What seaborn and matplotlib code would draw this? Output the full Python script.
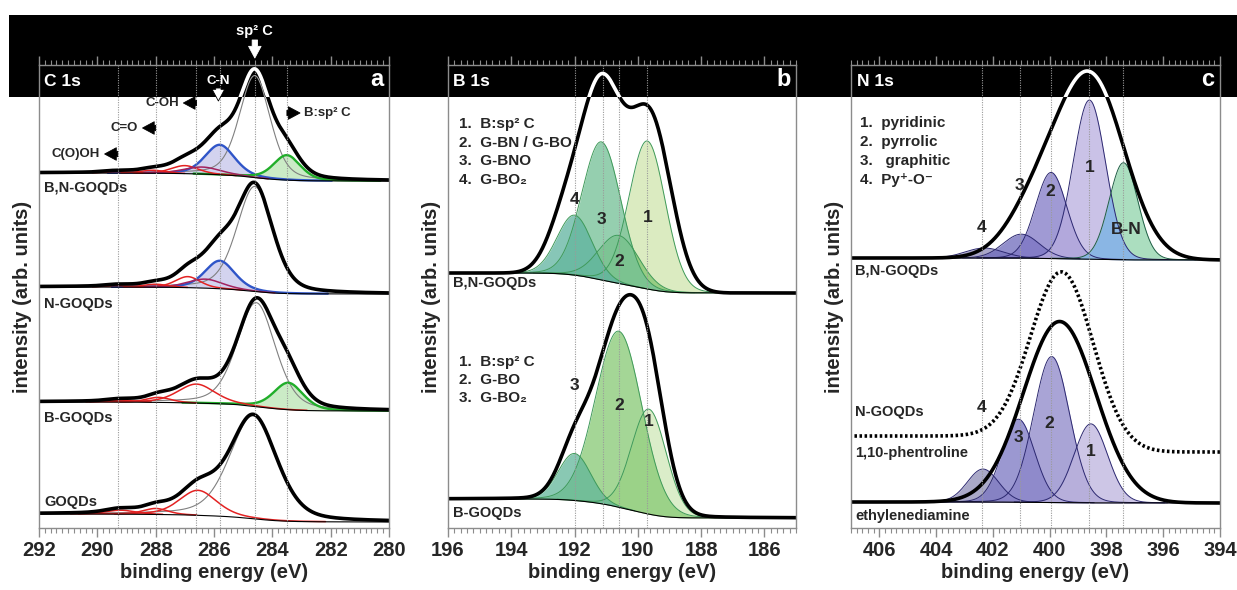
"""XPS C 1s / B 1s / N 1s deconvolution panels for doped GOQDs."""

import numpy as np
import matplotlib
matplotlib.use("Agg")
import matplotlib.pyplot as plt
from matplotlib.patches import Rectangle
from matplotlib.ticker import MultipleLocator
import seaborn as sns


# ---------------- data (arb. units) ----------------
# C 1s components: sp2 C, C-N, B:sp2 C, C-OH, C-O, C=O, C(O)OH
C1S_KINDS = ["sp2", "C-N", "B:sp2C", "C-OH", "C-O", "C=O", "COOH"]

BN_C1S_POS = [284.6, 285.8, 283.5, 287.0, 286.4, 288.1, 289.3]
BN_C1S_HEIGHT = [102, 30, 25, 8, 7, 3, 1.5]
BN_C1S_FWHM = [1.25, 1.2, 1.1, 1.1, 1.5, 1.0, 1.0]
BN_C1S_BG = (355, 347)

N_C1S_POS = [284.6, 285.8, 283.5, 286.9, 286.3, 288.0, 289.3]
N_C1S_HEIGHT = [105, 28, 0, 11, 9, 3, 1.5]
N_C1S_FWHM = [1.45, 1.2, 1.1, 1.0, 1.4, 1.0, 1.0]
N_C1S_BG = (241, 234)

B_C1S_POS = [284.55, 285.8, 283.45, 286.6, 286.3, 287.9, 289.2]
B_C1S_HEIGHT = [104, 0, 27, 19, 0, 5, 2]
B_C1S_FWHM = [1.55, 1.2, 1.2, 1.5, 1.4, 1.0, 1.1]
B_C1S_BG = (126, 117)

GO_C1S_POS = [284.65, 285.8, 283.5, 286.55, 286.3, 288.0, 289.2]
GO_C1S_HEIGHT = [103, 0, 0, 25, 0, 6, 4]
GO_C1S_FWHM = [1.9, 1.2, 1.1, 1.5, 1.4, 1.0, 1.2]
GO_C1S_BG = (14, 6)

C1S_SAMPLES = ["B,N-GOQDs", "N-GOQDs", "B-GOQDs", "GOQDs"]
C1S_LABEL_Y = [340, 224, 110, 26]
C1S_MARKERS = [289.3, 288.0, 286.6, 285.8, 284.6, 283.5]

# B 1s components: 1 B:sp2 C, 2 G-BN/G-BO, 3 G-BNO, 4 G-BO2
BN_B1S_POS = [189.7, 190.6, 191.15, 192.0]
BN_B1S_HEIGHT = [148, 48, 138, 60]
BN_B1S_FWHM = [1.35, 1.5, 1.45, 1.3]
BN_B1S_BG = (255, 235)
BN_B1S_ENV_POS = [191.15, 189.6, 192.3]
BN_B1S_ENV_HEIGHT = [190, 168, 50]
BN_B1S_ENV_FWHM = [1.55, 1.55, 1.3]
BN_B1S_LEGEND = ["1.  B:sp\u00b2 C", "2.  G-BN / G-BO", "3.  G-BNO", "4.  G-BO\u2082"]

B_B1S_POS = [189.65, 190.6, 192.0]
B_B1S_HEIGHT = [105, 176, 47]
B_B1S_FWHM = [1.3, 1.72, 1.2]
B_B1S_BG = (29, 10)
B_B1S_LEGEND = ["1.  B:sp\u00b2 C", "2.  G-BO", "3.  G-BO\u2082"]

B1S_MARKERS = [192.0, 191.1, 190.6, 189.7]

# N 1s components: 4 Py+-O-, 3 graphitic, 2 pyrrolic, 1 pyridinic, B-N
BN_N1S_POS = [402.3, 401.0, 399.95, 398.6, 397.4]
BN_N1S_HEIGHT = [10, 24, 86, 159, 97]
BN_N1S_FWHM = [1.6, 1.5, 1.3, 1.35, 1.2]
BN_N1S_BG = (270, 268)
BN_N1S_ENV_POS = [398.55, 400.5]
BN_N1S_ENV_HEIGHT = [180, 45]
BN_N1S_ENV_FWHM = [2.8, 2.4]
N1S_LEGEND = ["1.  pyridinic", "2.  pyrrolic", "3.   graphitic", "4.  Py\u207a-O\u207b"]

ED_N1S_POS = [402.35, 401.1, 399.93, 398.55]
ED_N1S_HEIGHT = [33, 83, 146, 79]
ED_N1S_FWHM = [1.3, 1.35, 1.5, 1.4]
ED_N1S_BG = (26, 25)

PHEN_POS, PHEN_HEIGHT, PHEN_FWHM = 399.65, 181, 3.0
NGO_POS, NGO_HEIGHT, NGO_FWHM = 399.55, 172, 2.6
NGO_BG = (92, 76)

N1S_MARKERS = [402.4, 401.05, 399.95, 398.6, 397.4]

# ---------------- styling ----------------
W, H = 1237, 590
YMAX = 463
BAND_Y = 431          # bottom of black header band (data units)
GRID_C = "#9a9a9a"
SPINE_C = "#8c8c8c"

C1S_EDGE = ["#808080", "#2f55c8", "#21ae2a", "#e32222", "#a3225e", "#e32222", "#e32222"]
C1S_FILL = [None, "#c8c8ec", "#bfe6b8", None, None, None, None]
C1S_LW = [0.8, 1.7, 1.7, 1.1, 1.1, 1.1, 1.1]

BN_B1S_FILL = ["#cfe5ad", "#80c46f", "#72c095", "#5fb49f"]
B_B1S_FILL = ["#d0e7b8", "#86c973", "#62b69a"]
B1S_EDGE = "#3f9a5a"

BN_N1S_FILL = ["#8c89b8", "#6e6abb", "#8078c6", "#b9aee0", "#8fd4aa"]
ED_N1S_FILL = ["#8e8cb6", "#7a76c2", "#8c86c9", "#bdb4de"]
N1S_EDGE = "#2c2870"
BN_OVERLAP_C = "#8ab6e4"


def pv(x, pos, height, fwhm, eta):
    """Pseudo-Voigt line shape."""
    u = (x - pos) / fwhm
    return height * (eta / (1 + 4 * u ** 2) + (1 - eta) * np.exp(-4 * np.log(2) * u ** 2))


def peaks_sum(x, pos, heights, fwhms, eta=0.0):
    return np.sum([pv(x, p, h, w, eta) for p, h, w in zip(pos, heights, fwhms)], axis=0)


def shirley(x, total, bg):
    """Shirley-like step background; x ascending, bg = (high BE, low BE)."""
    cum = np.cumsum(total)
    cum = cum / cum[-1]
    return bg[1] + (bg[0] - bg[1]) * cum


def line(ax, x, y, **kw):
    sns.lineplot(x=x, y=y, ax=ax, estimator=None, sort=False, **kw)
    return ax.lines[-1]


def draw_spectrum(ax, x, pos, heights, fwhms, bg_lr, eta, fills, edges, lws,
                  alpha=0.75, envelope=True):
    comps = [pv(x, p, h, w, eta) for p, h, w in zip(pos, heights, fwhms)]
    total = np.sum(comps, axis=0)
    bg = shirley(x, total, bg_lr)
    for c, fc, ec, lw in zip(comps, fills, edges, lws):
        if c.max() <= 0:
            continue
        if fc:
            ax.fill_between(x, bg, bg + c, color=fc, alpha=alpha, lw=0, zorder=1)
        line(ax, x, np.where(c > 0.25, bg + c, np.nan), color=ec, lw=lw, zorder=2)
    line(ax, x, bg, color="black", lw=0.8, zorder=2)
    if envelope:
        line(ax, x, bg + total, color="black", lw=2.6, zorder=2.6)
    return bg, comps, bg + total


def draw_envelope(ax, x, pos, heights, fwhms, bg_lr, band=None, **kw):
    env = peaks_sum(x, pos, heights, fwhms)
    env = shirley(x, env, bg_lr) + env
    line(ax, x, env, color="black", lw=2.6, zorder=2.6, **kw)
    if band is not None:
        white_in_band(ax, band, x, env)
    return env


def setup_axes(ax, xlim, markers, head, letter):
    ax.set_xlim(*xlim)
    ax.set_ylim(0, YMAX)
    ax.set_yticks([])
    ax.xaxis.set_major_locator(MultipleLocator(2))
    ax.xaxis.set_minor_locator(MultipleLocator(0.2))
    ax.ticklabel_format(axis="x", useOffset=False)
    ax.tick_params(axis="x", which="both", direction="out", top=True, bottom=True,
                   color=SPINE_C, labelsize=14.5, pad=3)
    ax.tick_params(axis="x", which="major", length=6.5, width=1)
    ax.tick_params(axis="x", which="minor", length=3.5, width=0.8)
    for lab in ax.get_xticklabels():
        lab.set_fontweight("bold")
    for sp in ax.spines.values():
        sp.set_visible(True)
        sp.set_color(SPINE_C)
        sp.set_linewidth(1.0)
        sp.set_zorder(6)
    ax.set_xlabel("binding energy (eV)", fontsize=14.5, fontweight="bold", labelpad=2)
    ax.set_ylabel("intensity (arb. units)", fontsize=14.5, fontweight="bold", labelpad=5)
    for m in markers:
        ax.axvline(m, color=GRID_C, ls=(0, (1, 1.2)), lw=0.8, zorder=4)
    band = ax.axhspan(BAND_Y, YMAX + 10, color="black", lw=0, zorder=3)
    span = xlim[0] - xlim[1]
    ax.text(xlim[0] - 0.015 * span, 446, head, color="white", fontsize=12.5,
            fontweight="bold", ha="left", va="center", zorder=7)
    ax.text(xlim[1] + 0.015 * span, 448, letter, color="white", fontsize=17,
            fontweight="bold", ha="right", va="center", zorder=7)
    return band


def white_in_band(ax, band, x, y, color="white", lw=2.6):
    ln = line(ax, x, y, color=color, lw=lw, zorder=5)
    ln.set_clip_path(band)


def block_arrow(ax, tail, head, fc="black", ec="black"):
    ax.annotate("", xy=head, xytext=tail, annotation_clip=False, zorder=8,
                arrowprops=dict(arrowstyle="simple,head_width=0.75,head_length=0.7,tail_width=0.32",
                                fc=fc, ec=ec, lw=0.6, shrinkA=0, shrinkB=0))


def label(ax, x, y, s, size=10.5, **kw):
    ax.text(x, y, s, fontsize=size, fontweight="bold", va="center", zorder=7, **kw)


sns.set_theme(style="white")
plt.rcParams["font.family"] = ["Liberation Sans", "DejaVu Sans"]
plt.rcParams["font.weight"] = "bold"

fig = plt.figure(figsize=(W / 100, H / 100), dpi=100)
fig.add_artist(Rectangle((9 / W, 1 - 97 / H), 1 - 9 / W, 82 / H, transform=fig.transFigure,
                         color="black", lw=0, zorder=-1))

bottom = 62 / H
height = YMAX / H
ax_a = fig.add_axes([39 / W, bottom, 350 / W, height])
ax_b = fig.add_axes([448 / W, bottom, 348 / W, height])
ax_c = fig.add_axes([851 / W, bottom, 369 / W, height])

# ---------------- a: C 1s ----------------
xa = np.linspace(280, 292, 1500)
band_a = setup_axes(ax_a, (292, 280), C1S_MARKERS, "C 1s", "a")
c1s = [
    (BN_C1S_POS, BN_C1S_HEIGHT, BN_C1S_FWHM, BN_C1S_BG),
    (N_C1S_POS, N_C1S_HEIGHT, N_C1S_FWHM, N_C1S_BG),
    (B_C1S_POS, B_C1S_HEIGHT, B_C1S_FWHM, B_C1S_BG),
    (GO_C1S_POS, GO_C1S_HEIGHT, GO_C1S_FWHM, GO_C1S_BG),
]
for i, (pos, hts, fw, bgv) in enumerate(c1s):
    bg, comps, env = draw_spectrum(ax_a, xa, pos, hts, fw, bgv, 0.35,
                                   C1S_FILL, C1S_EDGE, C1S_LW, alpha=0.8)
    label(ax_a, 291.83, C1S_LABEL_Y[i], C1S_SAMPLES[i], ha="left")
    if i == 0:
        white_in_band(ax_a, band_a, xa, bg + comps[0], color="#9a9a9a", lw=0.8)
        white_in_band(ax_a, band_a, xa, env)

label(ax_a, 284.6, 497, "sp\u00b2 C", size=10.5, ha="center", color="white")
block_arrow(ax_a, (284.6, 488), (284.6, 470), fc="white", ec="white")
label(ax_a, 285.85, 447, "C-N", size=9.5, ha="center", color="white")
block_arrow(ax_a, (285.85, 440), (285.85, 427), fc="white", ec="black")
label(ax_a, 287.2, 425, "C-OH", size=9.5, ha="right")
block_arrow(ax_a, (286.6, 425), (287.05, 425))
label(ax_a, 288.6, 400, "C=O", size=9.5, ha="right")
block_arrow(ax_a, (288.0, 400), (288.45, 400))
label(ax_a, 289.9, 374, "C(O)OH", size=9.5, ha="right")
block_arrow(ax_a, (289.3, 374), (289.75, 374))
label(ax_a, 282.9, 415, "B:sp\u00b2 C", size=9.5, ha="left")
block_arrow(ax_a, (283.5, 415), (283.05, 415))

# ---------------- b: B 1s ----------------
xb = np.linspace(185, 196, 1500)
band_b = setup_axes(ax_b, (196, 185), B1S_MARKERS, "B 1s", "b")
draw_spectrum(ax_b, xb, BN_B1S_POS, BN_B1S_HEIGHT, BN_B1S_FWHM, BN_B1S_BG, 0.05,
              BN_B1S_FILL, [B1S_EDGE] * 4, [0.7] * 4, envelope=False)
draw_envelope(ax_b, xb, BN_B1S_ENV_POS, BN_B1S_ENV_HEIGHT, BN_B1S_ENV_FWHM, BN_B1S_BG, band=band_b)
draw_spectrum(ax_b, xb, B_B1S_POS, B_B1S_HEIGHT, B_B1S_FWHM, B_B1S_BG, 0.05,
              B_B1S_FILL, [B1S_EDGE] * 3, [0.7] * 3)
label(ax_b, 195.84, 245, "B,N-GOQDs", ha="left")
label(ax_b, 195.84, 15, "B-GOQDs", ha="left")
for k, s in enumerate(BN_B1S_LEGEND):
    label(ax_b, 195.65, 404 - 18.7 * k, s, size=11, ha="left")
for k, s in enumerate(B_B1S_LEGEND):
    label(ax_b, 195.65, 166 - 18 * k, s, size=11, ha="left")
for s, x, y in zip("4321", [192.0, 191.15, 190.6, 189.7], [328, 308, 266, 310]):
    label(ax_b, x, y, s, size=12.5, ha="center")
for s, x, y in zip("321", [192.0, 190.6, 189.65], [143, 123, 106]):
    label(ax_b, x, y, s, size=12.5, ha="center")

# ---------------- c: N 1s ----------------
xc = np.linspace(394, 407, 1500)
band_c = setup_axes(ax_c, (407, 394), N1S_MARKERS, "N 1s", "c")
bg, comps, _ = draw_spectrum(ax_c, xc, BN_N1S_POS, BN_N1S_HEIGHT, BN_N1S_FWHM, BN_N1S_BG, 0.05,
                             BN_N1S_FILL, [N1S_EDGE] * 4 + ["#1f5e45"], [0.7] * 5,
                             envelope=False)
overlap = np.minimum(comps[3], comps[4])
ax_c.fill_between(xc, bg, bg + overlap, color=BN_OVERLAP_C, lw=0, zorder=1.5)
draw_envelope(ax_c, xc, BN_N1S_ENV_POS, BN_N1S_ENV_HEIGHT, BN_N1S_ENV_FWHM, BN_N1S_BG, band=band_c)

draw_spectrum(ax_c, xc, ED_N1S_POS, ED_N1S_HEIGHT, ED_N1S_FWHM, ED_N1S_BG, 0.05,
              ED_N1S_FILL, [N1S_EDGE] * 4, [0.7] * 4, envelope=False)
draw_envelope(ax_c, xc, [PHEN_POS], [PHEN_HEIGHT], [PHEN_FWHM], ED_N1S_BG)
draw_envelope(ax_c, xc, [NGO_POS], [NGO_HEIGHT], [NGO_FWHM], NGO_BG, linestyle=(0, (0.7, 0.7)))

label(ax_c, 406.86, 257, "B,N-GOQDs", ha="left")
label(ax_c, 406.86, 116, "N-GOQDs", ha="left")
label(ax_c, 406.86, 75, "1,10-phentroline", ha="left")
label(ax_c, 406.86, 12, "ethylenediamine", ha="left")
for k, s in enumerate(N1S_LEGEND):
    label(ax_c, 406.7, 405 - 19 * k, s, size=11, ha="left")
for s, x, y in zip(["4", "3", "2", "1", "B-N"], [402.4, 401.05, 399.97, 398.6, 397.3],
                   [300, 343, 336, 361, 298]):
    label(ax_c, x, y, s, size=12.5, ha="center")
for s, x, y in zip("4321", [402.4, 401.1, 400.0, 398.55], [120, 91, 104, 76]):
    label(ax_c, x, y, s, size=12.5, ha="center")

fig.savefig("out.png", dpi=100)
